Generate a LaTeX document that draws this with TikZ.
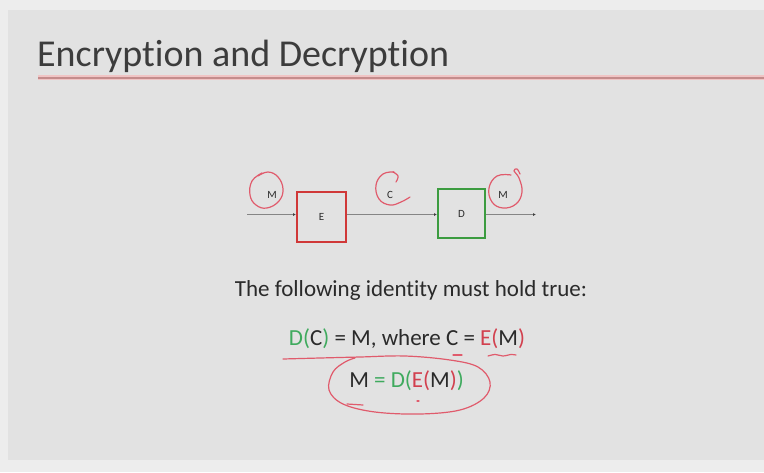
\documentclass[tikz,border=0pt]{standalone}
\usepackage{fontspec}
\setmainfont{Carlito}[Ligatures=NoCommon]
\usetikzlibrary{arrows.meta}

\definecolor{pagebg}{HTML}{EDEDED}
\definecolor{slidebg}{HTML}{E2E2E2}
\definecolor{titlegray}{HTML}{3C3C3C}
\definecolor{bodygray}{HTML}{2A2A2A}
\definecolor{rulered}{HTML}{C48C8C}
\definecolor{rulehalo}{HTML}{F0C4C4}
\definecolor{boxred}{HTML}{D03838}
\definecolor{boxgreen}{HTML}{3C9C40}
\definecolor{txtgreen}{HTML}{3FAA5E}
\definecolor{txtred}{HTML}{D2404E}
\definecolor{flowgray}{HTML}{858585}
\definecolor{ink}{HTML}{E04458}

\tikzset{
  blockbox/.style={draw, line width=2pt, fill=slidebg, inner sep=0pt,
    font=\fontsize{11}{12}\selectfont, text=bodygray},
  flow/.style={draw=flowgray, line width=1.5pt,
    -{Latex[length=3pt,width=3pt,color=black!75]}},
  wirelabel/.style={font=\fontsize{11}{12}\selectfont, text=bodygray, inner sep=0pt},
  bodytext/.style={anchor=base, inner sep=0pt, text=bodygray,
    font=\fontsize{23}{27}\selectfont},
  pen/.style={draw=ink, draw opacity=0.85, line width=1.2pt,
    line cap=round, line join=round}
}

\begin{document}
\begin{tikzpicture}[x=1pt,y=-1pt]
  % page and slide background
  \fill[pagebg] (0,0) rectangle (764,472);
  \fill[slidebg] (8,10) rectangle (764,460);
  \useasboundingbox (0,0) rectangle (764,472);

  % title and rule
  \node[anchor=base west, inner sep=0pt, text=titlegray,
        font=\fontsize{38}{46}\selectfont] (title) at (37,66) {Encryption and Decryption};
  \draw[rulehalo, line width=5pt] (38,77.5) -- (764,77.5);
  \draw[rulered, line width=2pt] (38,77.5) -- (764,77.5);

  % encryption / decryption blocks
  \node[blockbox, draw=boxred, minimum width=49pt, minimum height=50pt] (E) at (321.5,217) {E};
  \node[blockbox, draw=boxgreen, minimum width=47pt, minimum height=49pt] (D) at (461.5,213.5) {D};

  \coordinate (src) at (247,214.5);
  \coordinate (dst) at (536,214.5);
  \draw[flow] (src) -- (src -| E.west);
  \draw[flow] (src -| E.east) -- (src -| D.west);
  \draw[flow] (src -| D.east) -- (dst);

  \node[wirelabel] (m1) at (272,195) {M};
  \node[wirelabel] (c1) at (390,195) {C};
  \node[wirelabel] (m2) at (503,195) {M};

  % statement
  \node[bodytext] (line1) at (411,296) {The following identity must hold true:};
  \node[bodytext] (line2) at (407,345)
    {\textcolor{txtgreen}{D(}C\textcolor{txtgreen}{)} = M, where C = \textcolor{txtred}{E(}M\textcolor{txtred}{)}};
  \node[bodytext] (line3) at (406.5,387)
    {M \textcolor{txtgreen}{= D(}\textcolor{txtred}{E(}M\textcolor{txtred}{)}\textcolor{txtgreen}{)}};

  % pen marks
  \draw[pen] plot[smooth, tension=0.7] coordinates
    {(262,173) (252,181) (250,195) (256,205) (267,208) (279,201) (283,189) (278,177) (268,172) (258,176)};
  \draw[pen] plot[smooth, tension=0.7] coordinates
    {(394,172) (383,174) (376,185) (379,199) (390,205) (401,202) (410,197)};
  \draw[pen] plot[smooth, tension=0.7] coordinates
    {(393,172) (398,176) (396,182)};
  \draw[pen] plot[smooth, tension=0.7] coordinates
    {(511,175) (497,176) (489,188) (492,202) (503,208) (516,204) (522,192) (519,178) (514,171) (517,169) (520,174)};

  \draw[pen] plot[smooth, tension=0.6] coordinates
    {(283,359) (320,358) (360,357) (405,356) (450,360) (478,367) (490,382)
     (484,398) (460,410) (420,414) (375,412) (343,404) (329,390) (333,372) (345,362) (355,358)};
  \draw[pen] (453,355) -- (462,355);
  \draw[pen] plot[smooth] coordinates {(488,356) (495,354.5) (503,356) (511,354.5) (516,355)};
  \draw[pen] (347,404) -- (363,405);
  \draw[pen] (417,401) -- (419,401);
\end{tikzpicture}
\end{document}
